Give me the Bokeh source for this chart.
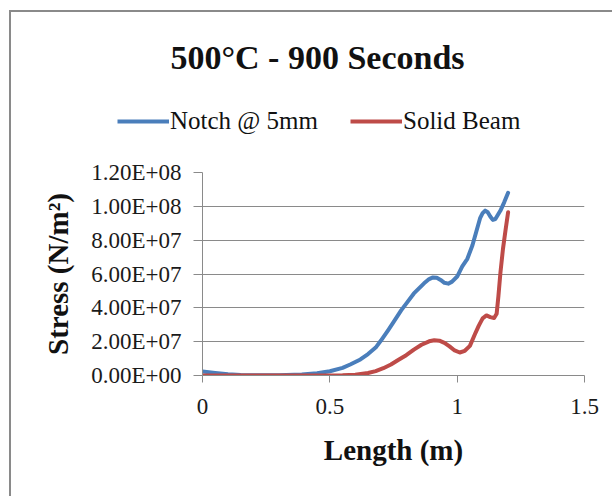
from bokeh.plotting import figure
from bokeh.models import (Range1d, FixedTicker, Label, Legend, LegendItem)
from bokeh.layouts import column
from bokeh.embed import file_html
from bokeh.resources import INLINE

# ---- data ----
notch_x = [0, 0.05, 0.1, 0.15, 0.2, 0.3, 0.39, 0.45, 0.5, 0.55, 0.58, 0.62, 0.65,
           0.68, 0.7, 0.73, 0.75, 0.78, 0.8, 0.83, 0.85, 0.87, 0.89, 0.905, 0.92,
           0.935, 0.95, 0.965, 0.98, 1.0, 1.02, 1.04, 1.06, 1.075, 1.09, 1.1,
           1.11, 1.12, 1.13, 1.14, 1.15, 1.16, 1.17, 1.185, 1.2]
notch_y = [2.3e6, 1.5e6, 0.7e6, 0.3e6, 0.2e6, 0.2e6, 0.6e6, 1.3e6, 2.5e6, 4.5e6,
           6.5e6, 9.5e6, 12.7e6, 16.5e6, 20.5e6, 27e6, 31.5e6, 38.5e6, 42.5e6,
           48.5e6, 51.5e6, 54.5e6, 57e6, 58e6, 57.8e6, 56.5e6, 54.8e6, 54.3e6,
           55.5e6, 58.5e6, 64.5e6, 69e6, 77e6, 85e6, 93e6, 96e6, 97.5e6, 96.5e6,
           94e6, 92e6, 92.5e6, 95e6, 97.5e6, 102.5e6, 108e6]

solid_x = [0, 0.2, 0.4, 0.55, 0.6, 0.65, 0.68, 0.71, 0.74, 0.77, 0.8, 0.83, 0.86,
           0.89, 0.91, 0.93, 0.95, 0.97, 0.99, 1.01, 1.03, 1.05, 1.07, 1.085, 1.1,
           1.115, 1.13, 1.145, 1.155, 1.162, 1.17, 1.18, 1.19, 1.2]
solid_y = [0, 0, 0, 0.1e6, 0.4e6, 1.5e6, 2.6e6, 4.3e6, 6.5e6, 9.3e6, 12e6, 15.3e6,
           18.2e6, 20.2e6, 20.8e6, 20.6e6, 19.3e6, 17.2e6, 14.8e6, 13.6e6, 14.6e6,
           17.5e6, 24.5e6, 29.5e6, 33.8e6, 35.5e6, 34.5e6, 34e6, 36.5e6, 47e6,
           61e6, 75e6, 86e6, 96.5e6]

series_names = ["Notch @ 5mm", "Solid Beam"]
title_text = "500°C - 900 Seconds"
x_title = "Length (m)"
y_title = "Stress (N/m²)"

x_ticks = [0, 0.5, 1, 1.5]
x_tick_labels = ["0", "0.5", "1", "1.5"]
y_ticks = [0, 2e7, 4e7, 6e7, 8e7, 1e8, 1.2e8]
y_tick_labels = ["0.00E+00", "2.00E+07", "4.00E+07", "6.00E+07",
                 "8.00E+07", "1.00E+08", "1.20E+08"]

# ---- styles ----
FONT = "Liberation Serif"
GRAY = "#8a8a8a"
BLUE = "#4a7ebb"
RED = "#be4b48"
LW = 4

# ---- header figure: title and legend (its ranges keep the series out of view;
#      the series are only used there for the legend's line samples) ----
head = figure(width=603, height=140, output_backend="svg", toolbar_location=None,
              x_axis_type=None, y_axis_type=None,
              x_range=Range1d(10, 11), y_range=Range1d(10, 11))
head.frame_align = False
head.margin = (10, 0, 0, 9)
head.styles = {"border-left": "2px solid " + GRAY, "border-top": "2px solid " + GRAY}
head.min_border_left = 0
head.min_border_right = 0
head.min_border_top = 0
head.min_border_bottom = 0
head.outline_line_color = None
head.grid.visible = False
head.border_fill_color = "white"

h1 = head.line(notch_x, notch_y, line_color=BLUE, line_width=LW)
h2 = head.line(solid_x, solid_y, line_color=RED, line_width=LW)

head.add_layout(Label(x=306, y=95, x_units="screen", y_units="screen", text=title_text,
                      text_font=FONT, text_font_style="bold", text_font_size="34px",
                      text_align="center", text_baseline="middle", text_color="#111111"))

legend = Legend(items=[LegendItem(label=series_names[0], renderers=[h1]),
                       LegendItem(label=series_names[1], renderers=[h2])],
                orientation="horizontal", location=(106, 17))
legend.label_text_font = FONT
legend.label_text_font_size = "25px"
legend.label_text_color = "#111111"
legend.glyph_width = 52
legend.glyph_height = 26
legend.label_standoff = 1
legend.spacing = 32
legend.padding = 0
legend.margin = 0
legend.border_line_color = None
legend.background_fill_alpha = 0
legend.label_height = 26
head.add_layout(legend, "center")

# ---- main figure ----
p = figure(width=603, height=346, output_backend="svg", toolbar_location=None,
           x_range=Range1d(0, 1.5), y_range=Range1d(0, 1.2e8))
p.frame_align = False
p.margin = (0, 0, 0, 9)
p.styles = {"border-left": "2px solid " + GRAY}
p.min_border_left = 191
p.min_border_right = 30
p.min_border_top = 22
p.min_border_bottom = 121
p.outline_line_color = None
p.background_fill_color = "white"
p.border_fill_color = "white"

p.xaxis.ticker = FixedTicker(ticks=x_ticks)
p.xaxis.major_label_overrides = {t: l for t, l in zip(x_ticks, x_tick_labels)}
p.yaxis.ticker = FixedTicker(ticks=y_ticks)
p.yaxis.major_label_overrides = {t: l for t, l in zip(y_ticks, y_tick_labels)}
for ax in (p.xaxis[0], p.yaxis[0]):
    ax.axis_line_color = GRAY
    ax.major_tick_line_color = GRAY
    ax.minor_tick_line_color = None
    ax.major_tick_in = 0
    ax.major_label_text_font = FONT
    ax.major_label_text_font_size = "23px"
    ax.major_label_text_color = "#1a1a1a"
    ax.axis_label_text_font = FONT
    ax.axis_label_text_font_style = "bold"
    ax.axis_label_text_font_size = "29px"
    ax.axis_label_text_color = "#111111"
p.xaxis.major_tick_out = 7
p.yaxis.major_tick_out = 9
p.xaxis.major_label_standoff = 16
p.yaxis.major_label_standoff = 12
p.xaxis.axis_label = x_title
p.yaxis.axis_label = y_title
p.xaxis.axis_label_standoff = 17
p.yaxis.axis_label_standoff = 14

p.xgrid.grid_line_color = None
p.ygrid.grid_line_color = GRAY
p.ygrid.grid_line_width = 1

p.line(notch_x, notch_y, line_color=BLUE, line_width=LW, line_join="round", line_cap="round")
p.line(solid_x, solid_y, line_color=RED, line_width=LW, line_join="round", line_cap="round")

layout = column(head, p)
open("out.html", "w").write(file_html(layout, INLINE))
